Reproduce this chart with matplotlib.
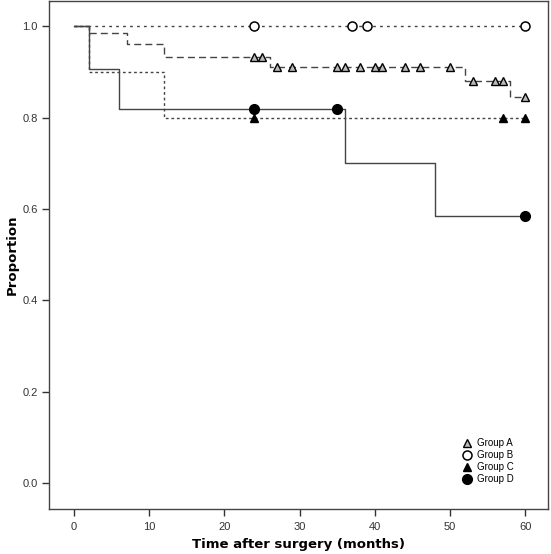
import matplotlib.pyplot as plt
import numpy as np

plt.rcParams["font.family"] = ["Liberation Sans", "DejaVu Sans"]

# step curves: event times and survival after each step (start at t=0, 1.0)
a_times = [0, 2, 7, 12, 26, 52, 58, 60]
a_surv = [1.0, 0.985, 0.960, 0.932, 0.911, 0.880, 0.845, 0.845]
a_cens = [24, 25, 27, 29, 35, 36, 38, 40, 41, 44, 46, 50, 53, 56, 57, 60]

b_times = [0, 60]
b_surv = [1.0, 1.0]
b_cens = [24, 37, 39, 60]

c_times = [0, 2, 12, 60]
c_surv = [1.0, 0.900, 0.800, 0.800]
c_cens = [24, 57, 60]

d_times = [0, 2, 6, 36, 48, 60]
d_surv = [1.0, 0.907, 0.818, 0.701, 0.585, 0.585]
d_cens = [24, 35, 60]

groups = ["Group A", "Group B", "Group C", "Group D"]


def surv_at(times, surv, t):
    idx = np.searchsorted(times, t, side="right") - 1
    return np.asarray(surv)[idx]


fig = plt.figure(figsize=(5.51, 5.54), dpi=100)
ax = fig.add_axes([49 / 551, 45 / 554, 499 / 551, 508 / 554])

line_col = "#444444"
styles = [
    (a_times, a_surv, a_cens, (0, (5, 3)), dict(marker="^", ms=5.5, mfc="#bbbbbb", mec="black", mew=1.0)),
    (b_times, b_surv, b_cens, (0, (2, 3)), dict(marker="o", ms=6.5, mfc="white", mec="black", mew=1.1)),
    (c_times, c_surv, c_cens, (0, (2, 2)), dict(marker="^", ms=5.5, mfc="black", mec="black", mew=1.0)),
    (d_times, d_surv, d_cens, "-", dict(marker="o", ms=7, mfc="black", mec="black", mew=1.0)),
]

for (times, surv, cens, ls, mk), name in zip(styles, groups):
    ax.step(times, surv, where="post", color=line_col, lw=1.0, linestyle=ls)
    ax.plot(cens, surv_at(times, surv, cens), linestyle="none", label=name, zorder=3, **mk)

ax.set_xlim(-3.3, 63.0)
ax.set_ylim(-0.056, 1.055)
ax.set_xticks([0, 10, 20, 30, 40, 50, 60])
ax.set_yticks([0.0, 0.2, 0.4, 0.6, 0.8, 1.0])
ax.set_yticklabels(["0.0", "0.2", "0.4", "0.6", "0.8", "1.0"])
ax.tick_params(direction="out", length=5, width=1.0, labelsize=8, colors="#333333", pad=3)
ax.tick_params(axis="x", pad=4)
for s in ax.spines.values():
    s.set_color("#444444")
    s.set_linewidth(1.0)

ax.set_xlabel("Time after surgery (months)", fontsize=9.5, fontweight="bold",
              family="DejaVu Sans", labelpad=5)
ax.set_ylabel("Proportion", fontsize=9.5, fontweight="bold",
              family="DejaVu Sans", labelpad=3)

ax.legend(loc="lower right", bbox_to_anchor=(0.945, 0.035), frameon=False, fontsize=7,
          handlelength=1.0, handletextpad=0.5, labelspacing=0.22, markerscale=1.0,
          borderpad=0.2)

fig.savefig("out.png", dpi=100)
